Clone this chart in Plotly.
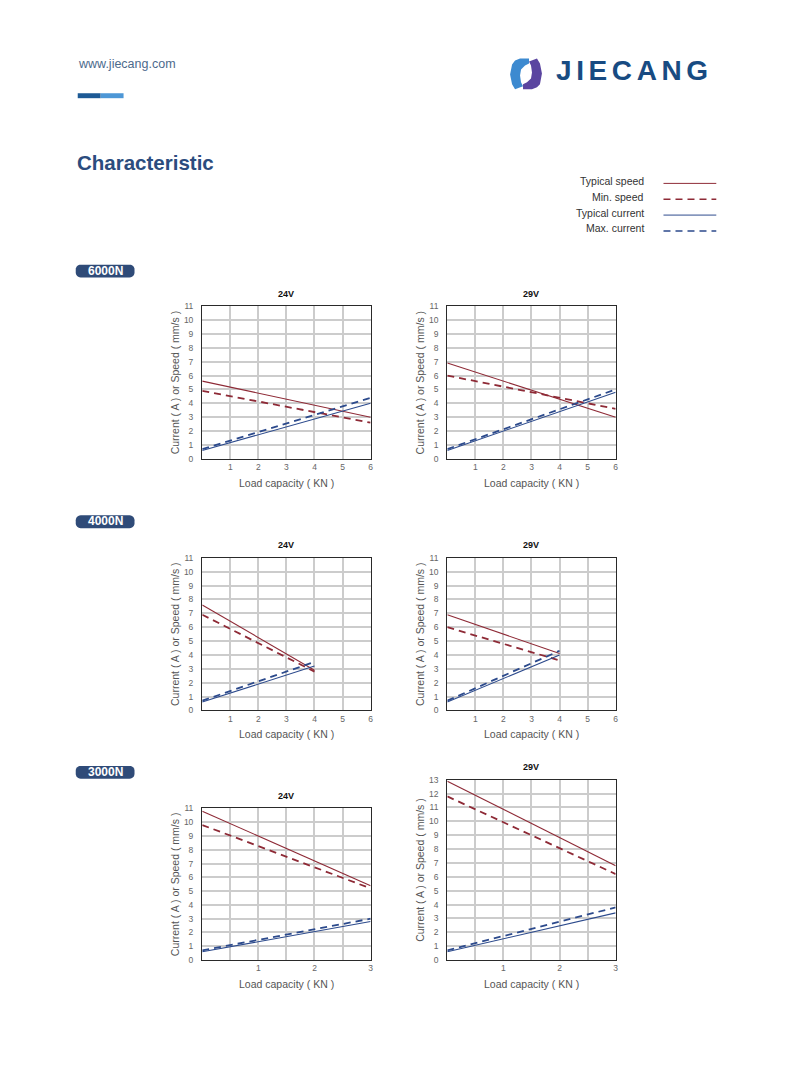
import math
import plotly.graph_objects as go

W, H = 794, 1077
OFF = 8  # page body margin
FW, FH = W - OFF, H - OFF
FONT = "Arial, Liberation Sans, sans-serif"

# ---------------- data ----------------
panel_titles = ["24V", "29V", "24V", "29V", "24V", "29V"]
group_labels = ["6000N", "4000N", "3000N"]
series_names = ["Typical speed", "Min. speed", "Typical current", "Max. current"]

load_6000 = [0, 6]
load_4000 = [0, 4]
load_3000 = [0, 3]

spd_typ_6000_24 = [5.6, 3.0]
spd_min_6000_24 = [4.9, 2.6]
cur_typ_6000_24 = [0.6, 4.0]
cur_max_6000_24 = [0.7, 4.4]

spd_typ_6000_29 = [6.9, 3.0]
spd_min_6000_29 = [6.0, 3.6]
cur_typ_6000_29 = [0.6, 4.8]
cur_max_6000_29 = [0.7, 5.0]

spd_typ_4000_24 = [7.6, 2.9]
spd_min_4000_24 = [6.9, 2.8]
cur_typ_4000_24 = [0.6, 3.2]
cur_max_4000_24 = [0.7, 3.5]

spd_typ_4000_29 = [6.9, 4.1]
spd_min_4000_29 = [6.0, 3.6]
cur_typ_4000_29 = [0.6, 4.0]
cur_max_4000_29 = [0.7, 4.3]

spd_typ_3000_24 = [10.8, 5.4]
spd_min_3000_24 = [9.8, 5.2]
cur_typ_3000_24 = [0.6, 2.8]
cur_max_3000_24 = [0.7, 3.0]

spd_typ_3000_29 = [12.9, 6.8]
spd_min_3000_29 = [11.8, 6.2]
cur_typ_3000_29 = [0.6, 3.4]
cur_max_3000_29 = [0.7, 3.8]

x_ticks_6 = [0, 1, 2, 3, 4, 5, 6]
x_ticktext_6 = ["", "1", "2", "3", "4", "5", "6"]
x_ticks_3 = [0, 0.5, 1, 1.5, 2, 2.5, 3]
x_ticktext_3 = ["", "", "1", "", "2", "", "3"]
y_ticks_11 = list(range(0, 12))
y_ticks_13 = list(range(0, 14))

# ---------------- styling ----------------
SPEED_C = "#8e2a36"
CURR_C = "#2c4a8c"
styles = [
    dict(color=SPEED_C, width=1.1, dash="solid"),
    dict(color=SPEED_C, width=1.8, dash="7px,5px"),
    dict(color=CURR_C, width=1.1, dash="solid"),
    dict(color=CURR_C, width=1.8, dash="7px,5px"),
]


def px(x):
    return (x - OFF) / FW


def py(y):
    return 1 - (y - OFF) / FH


# panel pixel boxes: (left, right, top, bottom)
boxes = [
    (203, 372, 304, 458),
    (449, 618, 304, 458),
    (203, 372, 558, 712),
    (449, 618, 558, 712),
    (203, 372, 811, 964),
    (449, 618, 782, 964),
]

panels = [
    (load_6000, [spd_typ_6000_24, spd_min_6000_24, cur_typ_6000_24, cur_max_6000_24], 6, 11),
    (load_6000, [spd_typ_6000_29, spd_min_6000_29, cur_typ_6000_29, cur_max_6000_29], 6, 11),
    (load_4000, [spd_typ_4000_24, spd_min_4000_24, cur_typ_4000_24, cur_max_4000_24], 6, 11),
    (load_4000, [spd_typ_4000_29, spd_min_4000_29, cur_typ_4000_29, cur_max_4000_29], 6, 11),
    (load_3000, [spd_typ_3000_24, spd_min_3000_24, cur_typ_3000_24, cur_max_3000_24], 3, 11),
    (load_3000, [spd_typ_3000_29, spd_min_3000_29, cur_typ_3000_29, cur_max_3000_29], 3, 13),
]

fig = go.Figure()
annotations = []
shapes = []


def ann(x, y, text, size, color, xanchor="center", yanchor="middle", **kw):
    annotations.append(dict(x=px(x), y=py(y), xref="paper", yref="paper", text=text,
                            xanchor=xanchor, yanchor=yanchor, showarrow=False,
                            font=dict(size=size, color=color, family=FONT), **kw))


for i, ((xs, ser, xmax, ymax), (l, r, t, b)) in enumerate(zip(panels, boxes)):
    n = "" if i == 0 else str(i + 1)
    xa, ya = "x" + n, "y" + n
    for name, ys, st in zip(series_names, ser, styles):
        fig.add_trace(go.Scatter(x=xs, y=ys, mode="lines", name=name, line=st,
                                 xaxis=xa, yaxis=ya, showlegend=False, hoverinfo="skip"))
    if xmax == 6:
        tv, tt = x_ticks_6, x_ticktext_6
    else:
        tv, tt = x_ticks_3, x_ticktext_3
    yt = y_ticks_11 if ymax == 11 else y_ticks_13
    common = dict(showgrid=True, gridcolor="#cccccc", gridwidth=1.6, zeroline=False,
                  showline=True, mirror=True, linecolor="#2a2a2a", linewidth=1.4,
                  ticks="", tickfont=dict(size=8.5, color="#666666", family=FONT),
                  fixedrange=True)
    fig.update_layout(**{
        "xaxis" + n: dict(domain=[px(l), px(r)], range=[0, xmax], tickvals=tv, ticktext=tt,
                          anchor=ya, ticklabelstandoff=0, **common),
        "yaxis" + n: dict(domain=[py(b), py(t)], range=[0, ymax], tickvals=yt,
                          ticktext=[str(v) for v in yt], anchor=xa, ticklabelstandoff=6, **common),
    })
    cx = (l + r) / 2
    ann(cx, t - 12.5, "<b>" + panel_titles[i] + "</b>", 9, "#111111")
    ann(cx, b + 24, "Load capacity ( KN )", 10.5, "#555555")
    ann(l - 27.5, (t + b) / 2, "Current ( A ) or Speed ( mm/s )", 10.5, "#555555", textangle=-90)

# ---------------- header ----------------
ann(76, 59, "www.jiecang.com", 12.5, "#4d6a8c", xanchor="left")
shapes.append(dict(type="rect", xref="paper", yref="paper", x0=px(78), x1=px(101), y0=py(89), y1=py(94),
                   fillcolor="#1d5a95", line_width=0))
shapes.append(dict(type="rect", xref="paper", yref="paper", x0=px(101), x1=px(124), y0=py(89), y1=py(94),
                   fillcolor="#4d97d6", line_width=0))
ann(556, 66.5, '<b><span style="letter-spacing:4.6px">JIECANG</span></b>', 28, "#184b82", xanchor="left")


def path_px(points):
    s = ""
    for k, (x, y) in enumerate(points):
        s += ("M" if k == 0 else "L") + f"{px(x):.5f},{py(y):.5f} "
    return s + "Z"


# logo icon (two interlocking halves)
shapes.append(dict(type="path", xref="paper", yref="paper", line_width=0, fillcolor="#3d8ad0",
                   path=path_px([(522, 54), (531, 54), (531, 59), (527, 61), (523, 65), (522, 71), (523, 78),
                                 (525, 82), (517, 85), (514, 80), (512, 70), (514, 60), (517, 56)])))
shapes.append(dict(type="path", xref="paper", yref="paper", line_width=0, fillcolor="#5b45a0",
                   path=path_px([(534, 85), (525, 85), (525, 80), (529, 78), (533, 74), (534, 68), (533, 61),
                                 (531, 57), (539, 54), (542, 59), (544, 69), (542, 80), (539, 83)])))

ann(75, 158.5, "<b>Characteristic</b>", 20.5, "#2b4c7e", xanchor="left")

# legend (text left, sample line right)
leg_y = [180, 196, 212, 228]
for name, st, yy in zip(series_names, styles, leg_y):
    ann(648, yy - 2.5, name, 10.5, "#333333", xanchor="right")
    shapes.append(dict(type="line", xref="paper", yref="paper", x0=px(666), x1=px(719), y0=py(yy), y1=py(yy),
                       line=dict(color=st["color"], width=st["width"] * 0.9, dash=st["dash"])))


# group badges
def rounded_rect(x0, y0, x1, y1, r):
    pts = []

    def arc(cx, cy, a0, a1):
        for k in range(7):
            a = math.radians(a0 + (a1 - a0) * k / 6)
            pts.append((cx + r * math.cos(a), cy + r * math.sin(a)))
    arc(x1 - r, y0 + r, -90, 0)
    arc(x1 - r, y1 - r, 0, 90)
    arc(x0 + r, y1 - r, 90, 180)
    arc(x0 + r, y0 + r, 180, 270)
    return path_px(pts)


badge_y = [262, 515, 768]
for lab, by in zip(group_labels, badge_y):
    shapes.append(dict(type="path", xref="paper", yref="paper", line_width=0, fillcolor="#2f4b78",
                       path=rounded_rect(76, by, 135, by + 13, 5)))
    ann(105.5, by + 6, "<b>" + lab + "</b>", 12, "#ffffff")

fig.update_layout(width=FW, height=FH, margin=dict(l=0, r=0, t=0, b=0),
                  paper_bgcolor="white", plot_bgcolor="white",
                  annotations=annotations, shapes=shapes, showlegend=False)

fig.write_html("out.html", config={"displayModeBar": False})
